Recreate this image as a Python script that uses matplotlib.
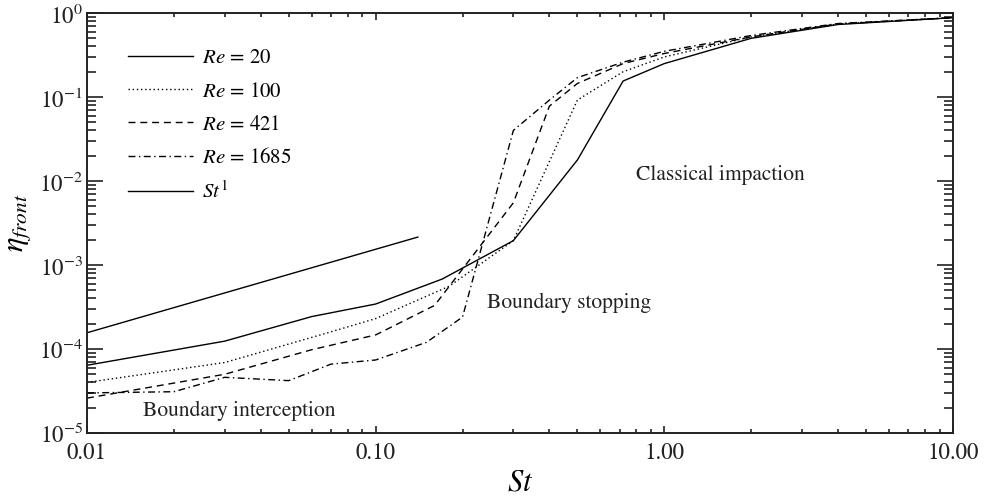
import matplotlib
matplotlib.use('Agg')
import matplotlib.pyplot as plt
from matplotlib.ticker import FixedLocator, FixedFormatter, LogLocator, NullFormatter

plt.rcParams['font.family'] = 'STIXGeneral'
plt.rcParams['mathtext.fontset'] = 'stix'

# collection efficiency of the front face vs Stokes number
st_re20 = [0.01, 0.03, 0.06, 0.1, 0.17, 0.3, 0.5, 0.72, 1.0, 2.0, 4.0, 10.0]
eta_re20 = [6.4e-5, 1.24e-4, 2.43e-4, 3.43e-4, 6.8e-4, 1.95e-3, 1.78e-2, 0.155, 0.25, 0.50, 0.73, 0.88]

st_re100 = [0.01, 0.03, 0.07, 0.1, 0.18, 0.3, 0.5, 0.72, 1.0, 2.0, 4.0, 10.0]
eta_re100 = [4.0e-5, 6.9e-5, 1.6e-4, 2.3e-4, 5.6e-4, 1.95e-3, 0.092, 0.20, 0.30, 0.52, 0.74, 0.88]

st_re421 = [0.01, 0.03, 0.06, 0.1, 0.16, 0.3, 0.4, 0.5, 0.72, 1.0, 2.0, 4.0, 10.0]
eta_re421 = [2.6e-5, 5.0e-5, 9.8e-5, 1.47e-4, 3.3e-4, 5.5e-3, 0.078, 0.145, 0.25, 0.33, 0.52, 0.74, 0.88]

st_re1685 = [0.01, 0.02, 0.03, 0.05, 0.07, 0.1, 0.15, 0.2, 0.3, 0.4, 0.5, 0.72, 1.0, 2.0, 4.0, 10.0]
eta_re1685 = [3.0e-5, 3.1e-5, 4.6e-5, 4.2e-5, 6.6e-5, 7.4e-5, 1.2e-4, 2.4e-4, 0.040, 0.092, 0.17, 0.26, 0.35, 0.54, 0.75, 0.88]

st_ref = [0.01, 0.14]
eta_ref = [1.56e-4, 2.15e-3]

xticks = [0.01, 0.1, 1.0, 10.0]
xticklabels = ['0.01', '0.10', '1.00', '10.00']

fig = plt.figure(figsize=(9.86, 4.97), dpi=100)
ax = fig.add_axes([0.0882, 0.1288, 0.8783, 0.845])

lw = 1.0
ax.plot(st_re20, eta_re20, 'k-', lw=lw, label=r'$\mathit{Re}$ = 20')
ax.plot(st_re100, eta_re100, 'k', lw=lw, linestyle=(0, (1, 2)), label=r'$\mathit{Re}$ = 100')
ax.plot(st_re421, eta_re421, 'k', lw=lw, linestyle=(0, (5, 3.5)), label=r'$\mathit{Re}$ = 421')
ax.plot(st_re1685, eta_re1685, 'k', lw=lw, linestyle=(0, (5, 2.5, 1, 2.5)), label=r'$\mathit{Re}$ = 1685')
ax.plot(st_ref, eta_ref, 'k-', lw=lw, label=r'$\mathit{St}^1$')

ax.set_xscale('log'); ax.set_yscale('log')
ax.set_xlim(0.01, 10); ax.set_ylim(1e-5, 1)

ax.xaxis.set_major_locator(FixedLocator(xticks))
ax.xaxis.set_major_formatter(FixedFormatter(xticklabels))
ax.xaxis.set_minor_locator(LogLocator(base=10, subs=range(2, 10)))
ax.xaxis.set_minor_formatter(NullFormatter())
ax.yaxis.set_minor_locator(LogLocator(base=10, subs=range(2, 10)))
ax.yaxis.set_minor_formatter(NullFormatter())

ax.tick_params(axis='both', which='both', direction='in', top=True, right=True,
               labelsize=16.5, colors='#222222', width=1.2)
ax.tick_params(axis='x', which='major', length=5, pad=7)
ax.tick_params(axis='x', which='minor', length=2.7)
ax.tick_params(axis='y', which='major', length=11.5, pad=3)
ax.tick_params(axis='y', which='minor', length=6.5)
for s in ax.spines.values():
    s.set_linewidth(1.4)
    s.set_color('#222222')

ax.set_xlabel(r'$\mathit{St}$', fontsize=22, labelpad=4)
ax.set_ylabel(r'$\eta_{front}$', fontsize=22, labelpad=4)

ax.text(0.0156, 1.83e-5, 'Boundary interception', fontsize=15.5, va='center', ha='left', color='#222222')
ax.text(0.243, 3.53e-4, 'Boundary stopping', fontsize=15.5, va='center', ha='left', color='#222222')
ax.text(0.8, 0.0118, 'Classical impaction', fontsize=15.5, va='center', ha='left', color='#222222')

ax.legend(loc='upper left', bbox_to_anchor=(0.038, 0.935), frameon=False, fontsize=15,
          handlelength=3.1, handletextpad=0.45, labelspacing=0.64, borderaxespad=0)

fig.savefig('out.png', dpi=100)
